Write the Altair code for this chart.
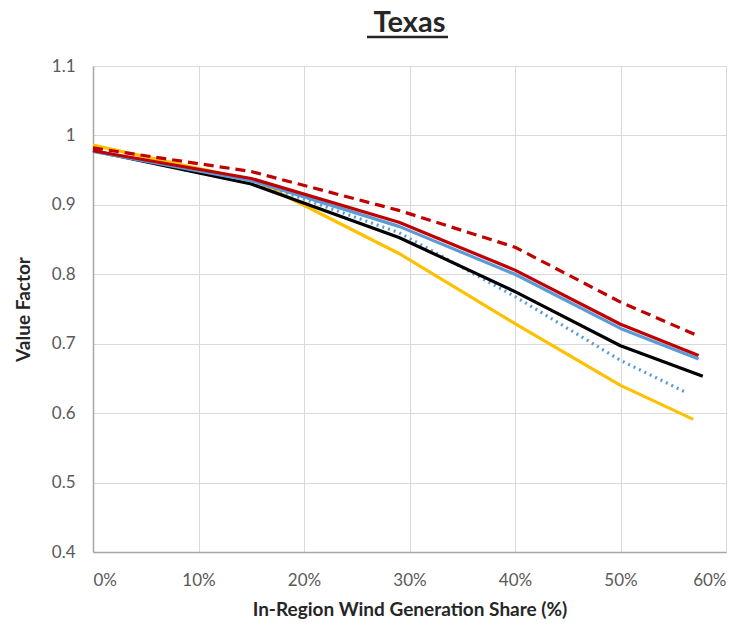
import altair as alt
import pandas as pd

# Wind generation share (%) at the data points of each scenario
share_black = [0, 15, 29, 40, 50, 57.8]
share_red = [0, 15, 29, 40, 50, 57.4]
share_blue = [0, 15, 29, 40, 50, 57.4]
share_blue_dot = [0, 15, 29, 40, 50, 56.2]
share_red_dash = [0, 15, 29, 40, 50, 57.4]
share_yellow = [0, 15.5, 29, 40, 50, 56.9]

# Value factor of each scenario
vf_black = [0.978, 0.930, 0.853, 0.775, 0.697, 0.653]
vf_red = [0.978, 0.938, 0.875, 0.806, 0.728, 0.683]
vf_blue = [0.977, 0.935, 0.869, 0.800, 0.722, 0.678]
vf_blue_dot = [0.978, 0.935, 0.860, 0.768, 0.676, 0.630]
vf_red_dash = [0.982, 0.948, 0.892, 0.839, 0.760, 0.711]
vf_yellow = [0.986, 0.934, 0.830, 0.729, 0.640, 0.591]

series = [
    # (shares, values, colour, dash)
    (share_yellow, vf_yellow, "#FFC000", []),
    (share_blue_dot, vf_blue_dot, "#5B9BD5", [2, 4]),
    (share_black, vf_black, "#000000", []),
    (share_blue, vf_blue, "#5B9BD5", []),
    (share_red, vf_red, "#C00000", []),
    (share_red_dash, vf_red_dash, "#C00000", [10, 6]),
]

FONT = "Lato"

x_enc = alt.X(
    "share:Q",
    scale=alt.Scale(domain=[0, 60], nice=False),
    axis=alt.Axis(
        values=[0, 10, 20, 30, 40, 50, 60],
        labelExpr="datum.value + '%'",
        title="In-Region Wind Generation Share (%)",
    ),
)
y_enc = alt.Y(
    "vf:Q",
    scale=alt.Scale(domain=[0.4, 1.1], nice=False, zero=False),
    axis=alt.Axis(
        values=[0.4, 0.5, 0.6, 0.7, 0.8, 0.9, 1.0, 1.1],
        format=".1~f",
        title="Value Factor",
    ),
)

layers = []
for shares, vals, col, dash in series:
    df = pd.DataFrame({"share": shares, "vf": vals})
    mk = dict(color=col, strokeWidth=3.2, strokeCap="butt", strokeJoin="round")
    if dash:
        mk["strokeDash"] = dash
    layers.append(alt.Chart(df).mark_line(**mk).encode(x=x_enc, y=y_enc))

underline = alt.Chart(pd.DataFrame({"k": [0]})).mark_rule(
    color="#262626", strokeWidth=2.5
).encode(x=alt.value(274), x2=alt.value(355), y=alt.value(-29))

chart = (
    alt.layer(*layers, underline)
    .properties(
        width=633,
        height=486,
        autosize=alt.AutoSizeParams(type="none"),
        padding={"left": 85, "top": 58, "right": 10, "bottom": 67},
        title=alt.TitleParams(
            "Texas",
            font=FONT,
            fontSize=29,
            fontWeight="bold",
            color="#262626",
            anchor="middle",
            offset=-2,
        ),
    )
    .configure_view(stroke=None)
    .configure_axis(
        labelFont=FONT,
        labelFontSize=17,
        labelColor="#595959",
        titleFont=FONT,
        titleFontSize=19,
        titleFontWeight="bold",
        titleColor="#262626",
        grid=True,
        gridColor="#D9D9D9",
        gridWidth=1,
        domainColor="#A6A6A6",
        domainWidth=1.5,
        ticks=False,
    )
    .configure_axisX(labelPadding=20, titlePadding=12, domain=True)
    .configure_axisY(labelPadding=18, titlePadding=18, domain=True)
)

chart.save("out.html", embed_options={"renderer": "svg", "actions": False})
